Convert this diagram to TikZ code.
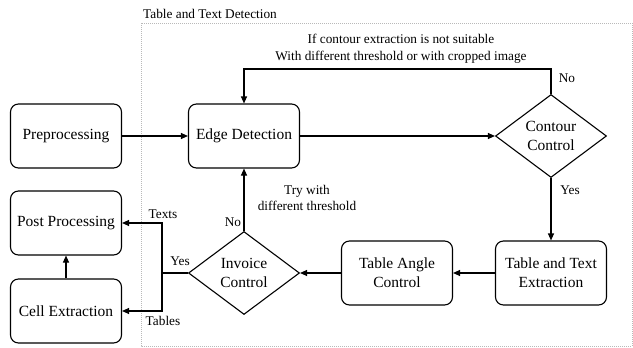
\documentclass[tikz,border=0pt]{standalone}
\usepackage{fontspec}
\setmainfont{Liberation Serif}
\usetikzlibrary{shapes.geometric,arrows.meta}
\begin{document}
\begin{tikzpicture}[x=1pt,y=-1pt,
  box/.style={draw, rounded corners=8pt, line width=1.1pt, minimum width=111pt, minimum height=64pt,
    align=center, inner sep=0pt, font=\fontsize{15.5}{19}\selectfont},
  dec/.style={draw, diamond, line width=1.1pt, minimum width=111pt, minimum height=83pt,
    align=center, inner sep=0pt, font=\fontsize{15.5}{19}\selectfont},
  lbl/.style={inner sep=0pt, align=center, font=\fontsize{13.3}{16.5}\selectfont},
  arr/.style={line width=1.1pt, -{Triangle[length=7pt,width=6pt]}},
  ln/.style={line width=1.1pt}]
\useasboundingbox (0,0) rectangle (633,348);
% group frame
\draw[gray!55, line width=0.6pt, dash pattern=on 1pt off 1pt] (141,23) rectangle (632,346);
\node[lbl, anchor=west] (grp) at (143,14) {Table and Text Detection};
% nodes
\node[box] (pre) at (66,136) {Preprocessing};
\node[box] (edge) at (244,136) {Edge Detection};
\node[dec] (cc) at (551,136) {Contour\\Control};
\node[box] (tte) at (551,273) {Table and Text\\Extraction};
\node[box] (tac) at (397,273) {Table Angle\\Control};
\node[dec] (ic) at (244,273) {Invoice\\Control};
\node[box] (post) at (66,223) {Post Processing};
\node[box] (cell) at (66,311) {Cell Extraction};
\coordinate (split) at (162,273);
% connectors
\draw[arr] (pre) -- (edge);
\draw[arr] (edge) -- (cc);
\draw[arr] (cc.north) -- ++(0,-25) -| (edge.north);
\draw[arr] (cc.south) -- (tte.north);
\draw[arr] (tte) -- (tac);
\draw[arr] (tac) -- (ic);
\draw[arr] (ic.north) -- (edge.south);
\draw[ln] (ic.west) -- (split);
\draw[arr] (split) |- (post.east);
\draw[arr] (split) |- (cell.east);
\draw[arr] (cell) -- (post);
% labels
\node[lbl] (t1) at (401,49) {If contour extraction is not suitable\\With different threshold or with cropped image};
\node[lbl] (no1) at (567,78) {No};
\node[lbl] (yes1) at (570,190) {Yes};
\node[lbl] (try) at (307,198) {Try with\\different threshold};
\node[lbl] (no2) at (233,222) {No};
\node[lbl] (yes2) at (180,261) {Yes};
\node[lbl] (texts) at (163,214) {Texts};
\node[lbl] (tables) at (163,321) {Tables};
\end{tikzpicture}
\end{document}
